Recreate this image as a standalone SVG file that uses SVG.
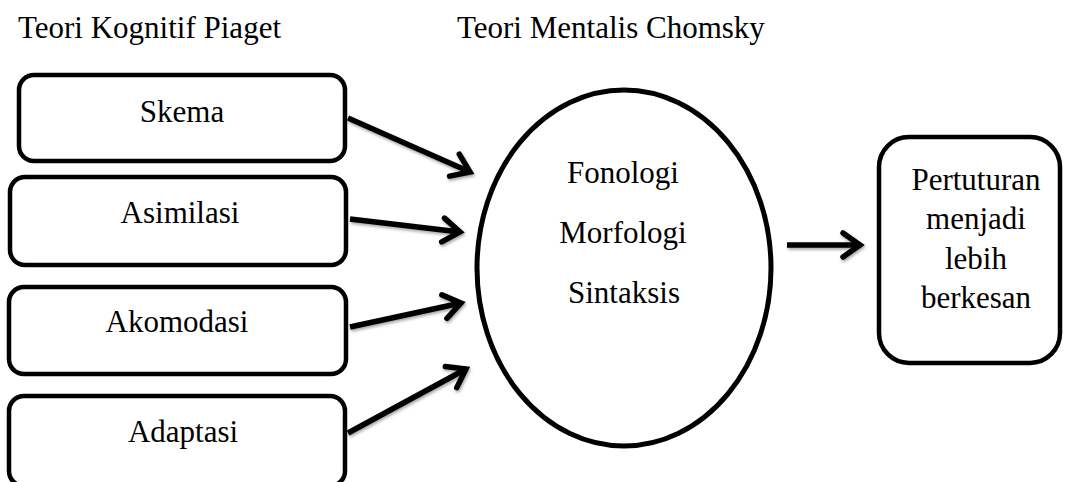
<svg xmlns="http://www.w3.org/2000/svg" width="1065" height="482" viewBox="0 0 1065 482">
  <style>
    .t { font-family: "Liberation Serif", "Times New Roman", serif; font-size: 31px; fill: #000; }
    .c { text-anchor: middle; }
    .box { fill: #fff; stroke: #000; stroke-width: 4.5; }
    .conn { fill: none; stroke: #000; stroke-width: 5.5; stroke-linecap: butt; marker-end: url(#arr); }
  </style>
  <defs>
    <marker id="arr" markerUnits="userSpaceOnUse" orient="auto" overflow="visible" refX="0" refY="0" markerWidth="40" markerHeight="40">
      <path d="M-17,-12 L0,0 L-17,12" fill="none" stroke="#000" stroke-width="5.5" stroke-linecap="round" stroke-linejoin="miter"/>
    </marker>
    <filter id="sh" x="-20%" y="-40%" width="140%" height="180%">
      <feDropShadow dx="1" dy="2" stdDeviation="1.5" flood-color="#000" flood-opacity="0.35"/>
    </filter>
  </defs>
  <rect width="1065" height="482" fill="#fff"/>

  <text class="t" x="18" y="38">Teori Kognitif Piaget</text>
  <text class="t" x="457" y="38">Teori Mentalis Chomsky</text>

  <g id="node-skema">
    <rect class="box" x="19" y="75" width="326" height="86" rx="15"/>
    <text class="t c" x="182" y="122">Skema</text>
  </g>
  <g id="node-asimilasi">
    <rect class="box" x="10" y="177" width="336" height="88" rx="15"/>
    <text class="t c" x="180" y="223">Asimilasi</text>
  </g>
  <g id="node-akomodasi">
    <rect class="box" x="9" y="287" width="337" height="87" rx="15"/>
    <text class="t c" x="177" y="332">Akomodasi</text>
  </g>
  <g id="node-adaptasi">
    <rect class="box" x="9" y="396" width="336" height="90" rx="15"/>
    <text class="t c" x="183" y="442">Adaptasi</text>
  </g>

  <g id="node-chomsky">
    <ellipse cx="624" cy="268" rx="147" ry="178" fill="#fff" stroke="#000" stroke-width="5"/>
    <text class="t c" x="623" y="183">Fonologi</text>
    <text class="t c" x="623" y="243">Morfologi</text>
    <text class="t c" x="624" y="303">Sintaksis</text>
  </g>

  <g id="node-pertuturan">
    <rect class="box" x="879" y="137" width="181" height="226" rx="30"/>
    <text class="t c" x="976" y="190">Pertuturan</text>
    <text class="t c" x="976" y="229">menjadi</text>
    <text class="t c" x="976" y="269">lebih</text>
    <text class="t c" x="976" y="308">berkesan</text>
  </g>

  <g id="connectors" filter="url(#sh)">
    <path class="conn" d="M348,118 L470,172"/>
    <path class="conn" d="M350,219 L460,232"/>
    <path class="conn" d="M350,327 L461,303"/>
    <path class="conn" d="M348,433 L466,369"/>
    <path class="conn" d="M787,245 L860,245"/>
  </g>
</svg>
